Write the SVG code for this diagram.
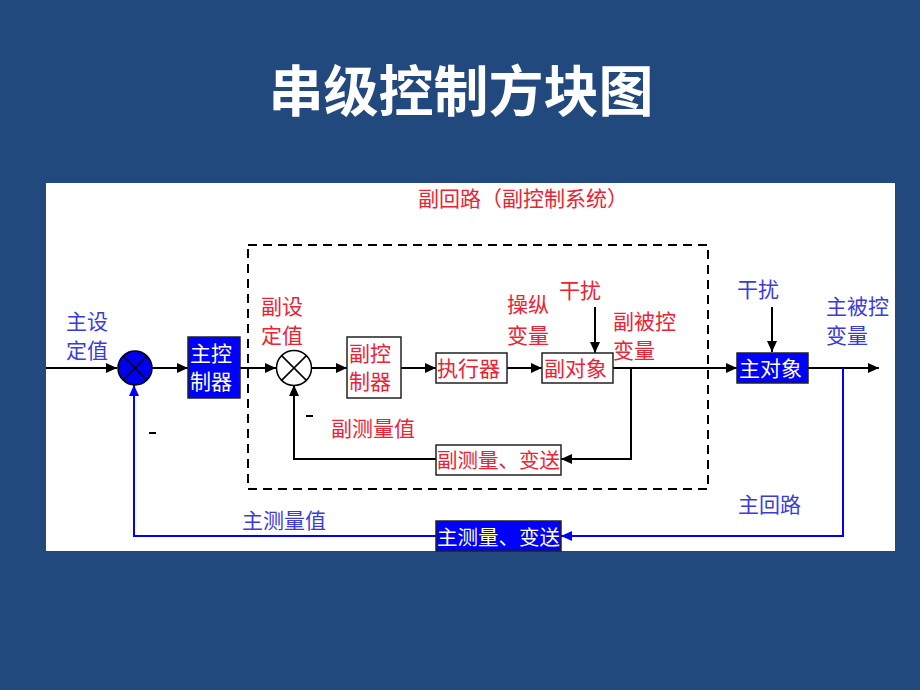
<svg xmlns="http://www.w3.org/2000/svg" width="920" height="690" viewBox="0 0 920 690">
<defs>
<style>
.t{font-family:"Noto Sans CJK SC","Liberation Sans",sans-serif;font-size:21px}
.s{font-size:20.5px}
.red{fill:#EE2233}
.blu{fill:#3B3BDD}
.yel{fill:#FFFFCC}
.ln{fill:none;stroke:#000;stroke-width:2}
.bl{fill:none;stroke:#0000FF;stroke-width:2}
.box{fill:#fff;stroke:#222;stroke-width:1.5}
.bbox{fill:#0000FF;stroke:#222;stroke-width:1.5}
</style>
<marker id="ah" markerUnits="userSpaceOnUse" markerWidth="12" markerHeight="10" refX="11" refY="5" orient="auto"><path d="M0,0 L11,5 L0,10 z" fill="#000"/></marker>
<marker id="ahb" markerUnits="userSpaceOnUse" markerWidth="12" markerHeight="10" refX="11" refY="5" orient="auto"><path d="M0,0 L11,5 L0,10 z" fill="#0000FF"/></marker>
</defs>
<rect width="920" height="690" fill="#21497D"/>
<text x="461" y="111" text-anchor="middle" font-family="Noto Sans CJK SC,Liberation Sans,sans-serif" font-size="55" font-weight="bold" fill="#fff">串级控制方块图</text>
<rect x="46" y="183" width="849" height="368" fill="#fff"/>

<g id="subloop">
<rect x="248" y="245" width="460" height="244" fill="none" stroke="#000" stroke-width="2" stroke-dasharray="9,6"/>
<text class="t red" x="418" y="206" font-size="19.5">副回路（副控制系统）</text>
</g>

<g id="connectors">
<path class="ln" d="M46,368 H117" marker-end="url(#ah)"/>
<path class="ln" d="M152,368 H188" marker-end="url(#ah)"/>
<path class="ln" d="M240,368 H276" marker-end="url(#ah)"/>
<path class="ln" d="M312,368 H347" marker-end="url(#ah)"/>
<path class="ln" d="M401,368 H436" marker-end="url(#ah)"/>
<path class="ln" d="M507,368 H542" marker-end="url(#ah)"/>
<path class="ln" d="M613,368 H737" marker-end="url(#ah)"/>
<path class="ln" d="M808,368 H879" marker-end="url(#ah)"/>
<path class="ln" d="M595,307 V353" marker-end="url(#ah)"/>
<path class="ln" d="M772,307 V352" marker-end="url(#ah)"/>
<path class="ln" d="M631,368 V459 H561" marker-end="url(#ah)"/>
<path class="ln" d="M436,459 H294 V385" marker-end="url(#ah)"/>
<path class="bl" d="M843,368 V536 H561" marker-end="url(#ahb)"/>
<path class="bl" d="M436,536 H134 V385" marker-end="url(#ahb)"/>
</g>

<g id="sum1">
<circle cx="135" cy="368" r="17" fill="#0000EE" stroke="#000" stroke-width="1.5"/>
<path d="M123,356 L147,380 M147,356 L123,380" stroke="#000" stroke-width="1.5"/>
</g>
<g id="sum2">
<circle cx="294" cy="368" r="17.5" fill="#fff" stroke="#000" stroke-width="1.5"/>
<path d="M281.6,355.6 L306.4,380.4 M306.4,355.6 L281.6,380.4" stroke="#000" stroke-width="1.5"/>
</g>

<g id="main-ctrl">
<rect class="bbox" x="188" y="337" width="52" height="61"/>
<text class="t yel" x="190" y="361">主控</text>
<text class="t yel" x="190" y="389">制器</text>
</g>
<g id="sub-ctrl">
<rect class="box" x="347" y="337" width="54" height="61"/>
<text class="t red" x="349" y="361">副控</text>
<text class="t red" x="349" y="389">制器</text>
</g>
<g id="actuator">
<rect class="box" x="436" y="353" width="71" height="30"/>
<text class="t red" x="437" y="376">执行器</text>
</g>
<g id="sub-obj">
<rect class="box" x="542" y="353" width="71" height="30"/>
<text class="t red" x="544" y="376">副对象</text>
</g>
<g id="main-obj">
<rect class="bbox" x="737" y="353" width="71" height="30"/>
<text class="t yel" x="739" y="376">主对象</text>
</g>
<g id="sub-meas">
<rect class="box" x="436" y="445" width="125" height="30"/>
<text class="t s red" x="437" y="468">副测量、变送</text>
</g>
<g id="main-meas">
<rect class="bbox" x="436" y="521" width="125" height="30"/>
<text class="t s yel" x="437" y="545">主测量、变送</text>
</g>

<g id="labels">
<text class="t blu" x="66" y="329">主设</text>
<text class="t blu" x="66" y="358">定值</text>
<text class="t red" x="261" y="314">副设</text>
<text class="t red" x="261" y="343">定值</text>
<text class="t red" x="507" y="312">操纵</text>
<text class="t red" x="507" y="343">变量</text>
<text class="t red" x="559" y="298">干扰</text>
<text class="t red" x="613" y="329">副被控</text>
<text class="t red" x="613" y="358">变量</text>
<text class="t blu" x="737" y="297">干扰</text>
<text class="t blu" x="826" y="314">主被控</text>
<text class="t blu" x="826" y="343">变量</text>
<text class="t red" x="331" y="436">副测量值</text>
<text class="t blu" x="242" y="528">主测量值</text>
<text class="t blu" x="738" y="512">主回路</text>
<path d="M306,416 H313" stroke="#000" stroke-width="2"/>
<path d="M149,433 H156" stroke="#000" stroke-width="2"/>
</g>
</svg>
